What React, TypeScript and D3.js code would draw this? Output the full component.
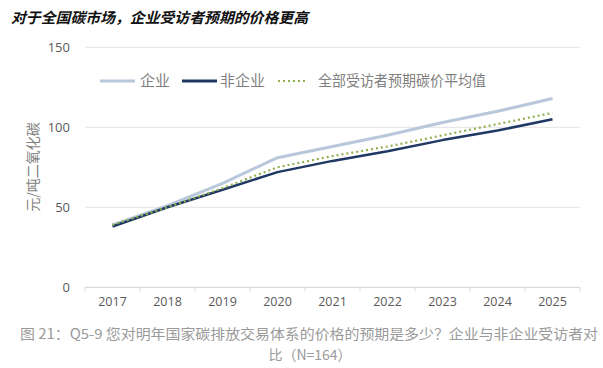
import React from "react";
import * as d3 from "d3";

const years = ["2017", "2018", "2019", "2020", "2021", "2022", "2023", "2024", "2025"];
const enterprise = [39, 51, 65, 81, 88, 95, 103, 110, 118];
const nonEnterprise = [38, 50, 61, 72, 79, 85, 92, 98, 105];
const average = [39, 50, 62, 75, 82, 88, 95, 102, 109];
const yTicks = [0, 50, 100, 150];
const seriesNames = ["企业", "非企业", "全部受访者预期碳价平均值"];

const W = 603, H = 368;
const plot = { left: 85, right: 580, top: 47.3, bottom: 287.3 };

export default function App() {
  const x = d3.scaleBand<string>().domain(years).range([plot.left, plot.right]).padding(0);
  const y = d3.scaleLinear().domain([0, 150]).range([plot.bottom, plot.top]);
  const cx = (d: string) => (x(d) as number) + x.bandwidth() / 2;
  const line = d3.line<number>().x((_, i) => cx(years[i])).y((v) => y(v));
  const boundaries = [...years.map((d) => x(d) as number), plot.right];
  const font = "'Noto Sans CJK SC', 'Noto Sans', sans-serif";
  const tickFont = "'Open Sans', 'Noto Sans', sans-serif";

  return (
    <svg width={W} height={H} style={{ position: "absolute", left: 0, top: 0, background: "#fff" }}>
      <text x={11} y={23} fontFamily={font} fontSize={14.5} fontWeight="bold" fontStyle="italic" fill="#111"
        textLength={297} lengthAdjust="spacingAndGlyphs">
        对于全国碳市场，企业受访者预期的价格更高
      </text>

      {yTicks.filter((t) => t > 0).map((t) => (
        <line key={t} x1={plot.left} x2={plot.right} y1={y(t)} y2={y(t)} stroke="#e3e3e3" strokeWidth={1} />
      ))}
      {yTicks.map((t) => (
        <text key={t} x={70} y={y(t) + 4.5} textAnchor="end" fontFamily={tickFont} fontSize={13} fill="#595959">
          {t}
        </text>
      ))}
      <line x1={plot.left} x2={plot.right} y1={y(0)} y2={y(0)} stroke="#d9d9d9" strokeWidth={1.2} />
      {boundaries.map((b, i) => (
        <line key={i} x1={b} x2={b} y1={y(0)} y2={y(0) + 4} stroke="#d9d9d9" strokeWidth={1} />
      ))}
      {years.map((d) => (
        <text key={d} x={cx(d)} y={306} textAnchor="middle" fontFamily={tickFont} fontSize={12.5} fill="#595959">
          {d}
        </text>
      ))}

      <text
        transform={`translate(38, ${167}) rotate(-90)`}
        textAnchor="middle"
        fontFamily={font}
        fontSize={14}
        fill="#7f7f7f"
      >
        元/吨二氧化碳
      </text>

      <path d={line(enterprise) as string} fill="none" stroke="#b9c7da" strokeWidth={3} strokeLinejoin="round" />
      <path d={line(nonEnterprise) as string} fill="none" stroke="#1f3864" strokeWidth={2.5} strokeLinejoin="round" />
      <path
        d={line(average) as string}
        fill="none"
        stroke="#8fae4e"
        strokeWidth={2.2}
        strokeDasharray="2 3"
        strokeLinejoin="round"
      />

      {/* legend */}
      <line x1={100} x2={135} y1={81} y2={81} stroke="#b9c7da" strokeWidth={3} />
      <text x={140} y={86} fontFamily={font} fontSize={15} fill="#7f7f7f">{seriesNames[0]}</text>
      <line x1={182} x2={217} y1={81} y2={81} stroke="#1f3864" strokeWidth={3} />
      <text x={220} y={86} fontFamily={font} fontSize={15} fill="#7f7f7f">{seriesNames[1]}</text>
      <line x1={278} x2={307} y1={81} y2={81} stroke="#8fae4e" strokeWidth={2} strokeDasharray="2 3" />
      <text x={318} y={86} fontFamily={font} fontSize={15} fill="#7f7f7f" textLength={168} lengthAdjust="spacingAndGlyphs">
        {seriesNames[2]}
      </text>

      {/* caption */}
      <text x={20} y={339} fontFamily={font} fontSize={14} fill="#9a9a9a" textLength={578} lengthAdjust="spacingAndGlyphs">
        图 21：Q5-9 您对明年国家碳排放交易体系的价格的预期是多少？企业与非企业受访者对
      </text>
      <text x={310} y={360} textAnchor="middle" fontFamily={font} fontSize={14} fill="#9a9a9a">
        比（N=164）
      </text>
    </svg>
  );
}
